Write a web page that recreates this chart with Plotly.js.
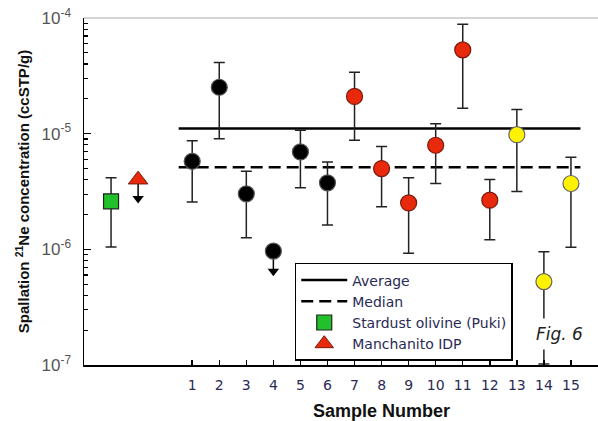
<!DOCTYPE html>
<html>
<head>
<meta charset="utf-8">
<script src="https://cdn.plot.ly/plotly-3.0.1.min.js"></script>
<style>html,body{margin:0;padding:0;background:#fff;}#chart{width:598px;height:421px;}</style>
</head>
<body>
<div id="chart"></div>
<script>
// ---- data ----
const sampleIds = [1, 2, 3, 4, 5, 6, 7, 8, 9, 10, 11, 12, 13, 14, 15];
const sampleValues = [5.77e-6, 2.52e-5, 3.02e-6, 9.66e-7, 6.95e-6, 3.76e-6, 2.1e-5, 4.99e-6, 2.52e-6, 7.94e-6, 5.3e-5, 2.66e-6, 9.8e-6, 5.26e-7, 3.71e-6];
const sampleUpper = [8.7e-6, 4.12e-5, 4.73e-6, null, 1.07e-5, 5.7e-6, 3.4e-5, 7.73e-6, 4.15e-6, 1.22e-5, 8.82e-5, 4.01e-6, 1.62e-5, 9.55e-7, 6.25e-6];
const sampleLower = [2.56e-6, 9.06e-6, 1.26e-6, null, 3.4e-6, 1.62e-6, 8.75e-6, 2.33e-6, 9.25e-7, 3.71e-6, 1.66e-5, 1.21e-6, 3.16e-6, 1.02e-7, 1.04e-6];
const sampleGroup = ['black', 'black', 'black', 'black', 'black', 'black', 'red', 'red', 'red', 'red', 'red', 'red', 'yellow', 'yellow', 'yellow'];
const sampleLimitTo = [null, null, null, 6.45e-7, null, null, null, null, null, null, null, null, null, null, null];

const stardustX = [-2];
const stardustValue = [2.6e-6];
const stardustUpper = [4.15e-6];
const stardustLower = [1.05e-6];

const manchanitoX = [-1];
const manchanitoValue = [4.0e-6];
const manchanitoLimitTo = [2.75e-6];

const averageValue = 1.11e-5;
const medianValue = 5.12e-6;
const refLineX = [0.5, 15.35];

const xTickVals = sampleIds;
const yTickVals = [1e-7, 1e-6, 1e-5, 1e-4];
const yTickText = ['10<sup>-7</sup>', '10<sup>-6</sup>', '10<sup>-5</sup>', '10<sup>-4</sup>'];

// ---- styles ----
const groupColors = { black: '#000000', red: '#e8290b', yellow: '#fff200' };
const groupEdges = { black: '#555555', red: '#7a1a0a', yellow: '#666666' };

const traces = [];
traces.push({
  x: refLineX, y: refLineX.map(() => averageValue), mode: 'lines', name: 'Average',
  line: { color: '#000', width: 2.5 }, hoverinfo: 'skip'
});
traces.push({
  x: refLineX, y: refLineX.map(() => medianValue), mode: 'lines', name: 'Median',
  line: { color: '#000', width: 2.5, dash: '12px,6px' }, hoverinfo: 'skip'
});
traces.push({
  x: stardustX, y: stardustValue, mode: 'markers', name: 'Stardust olivine (Puki)',
  marker: { symbol: 'square', size: 15, color: '#22c02a', line: { color: '#222', width: 1.2 } },
  error_y: { type: 'data', symmetric: false,
    array: stardustValue.map((v, i) => stardustUpper[i] - v),
    arrayminus: stardustValue.map((v, i) => v - stardustLower[i]),
    color: '#222', thickness: 1.5, width: 5.5 }
});
// Manchanito upper-limit arrow
traces.push({
  x: manchanitoX.concat(manchanitoX), y: manchanitoValue.concat(manchanitoLimitTo), mode: 'lines',
  line: { color: '#000', width: 1.5 }, showlegend: false, hoverinfo: 'skip'
});
traces.push({
  x: manchanitoX, y: manchanitoLimitTo, mode: 'markers', showlegend: false,
  marker: { symbol: 'triangle-down', size: 10, color: '#000' }, hoverinfo: 'skip'
});
traces.push({
  x: manchanitoX, y: manchanitoValue, mode: 'markers', name: 'Manchanito IDP',
  marker: { symbol: 'triangle-up', size: 17, color: '#e8290b', line: { color: '#7a1a0a', width: 1 } }
});

// sample upper-limit arrows
sampleIds.forEach((id, i) => {
  if (sampleLimitTo[i] !== null) {
    traces.push({
      x: [id, id], y: [sampleValues[i], sampleLimitTo[i]], mode: 'lines',
      line: { color: '#000', width: 1.5 }, showlegend: false, hoverinfo: 'skip'
    });
    traces.push({
      x: [id], y: [sampleLimitTo[i]], mode: 'markers', showlegend: false,
      marker: { symbol: 'triangle-down', size: 10, color: '#000' }, hoverinfo: 'skip'
    });
  }
});

['black', 'red', 'yellow'].forEach(g => {
  const idx = sampleIds.map((_, i) => i).filter(i => sampleGroup[i] === g);
  traces.push({
    x: idx.map(i => sampleIds[i]),
    y: idx.map(i => sampleValues[i]),
    mode: 'markers', showlegend: false,
    marker: { symbol: 'circle', size: 16, color: groupColors[g], line: { color: groupEdges[g], width: 1.2 } },
    error_y: { type: 'data', symmetric: false,
      array: idx.map(i => sampleUpper[i] === null ? 0 : sampleUpper[i] - sampleValues[i]),
      arrayminus: idx.map(i => sampleLower[i] === null ? 0 : sampleValues[i] - sampleLower[i]),
      color: '#222', thickness: 1.5, width: 5.5 }
  });
});

const layout = {
  width: 598, height: 421,
  margin: { l: 84, r: 0, t: 18, b: 56 },
  paper_bgcolor: '#fff', plot_bgcolor: '#fff',
  showlegend: true,
  font: { family: 'DejaVu Sans, Verdana, sans-serif', color: '#222' },
  xaxis: {
    range: [-3, 16], tickvals: xTickVals, ticks: 'inside', ticklen: 5, tickwidth: 1.5, tickcolor: '#000',
    ticklabelstandoff: 6,
    showgrid: false, zeroline: false, showline: true, linecolor: '#000', linewidth: 2,
    tickfont: { family: 'DejaVu Sans, Verdana, sans-serif', size: 14, color: '#2a2a55' }
  },
  yaxis: {
    type: 'log', range: [-7, -4], tickvals: yTickVals, ticktext: yTickText,
    ticks: 'inside', ticklen: 7, tickwidth: 1.5, tickcolor: '#000',
    ticklabelstandoff: 8,
    minor: { dtick: 'D1', ticks: 'inside', ticklen: 4, tickwidth: 1.2, tickcolor: '#000', showgrid: false },
    showgrid: false, zeroline: false, showline: true, linecolor: '#000', linewidth: 1.5,
    tickfont: { family: 'Liberation Sans, Arial, sans-serif', size: 17, color: '#555' },
    title: { text: 'Spallation <sup>21</sup>Ne concentration (ccSTP/g)', font: { family: 'Liberation Sans, Arial, sans-serif', size: 15, color: '#111', weight: 'bold' }, standoff: 8 }
  },
  legend: {
    x: 0.41, y: 0.294, xanchor: 'left', yanchor: 'top',
    bgcolor: '#fff', bordercolor: '#000', borderwidth: 1.5,
    font: { family: 'DejaVu Sans, Verdana, sans-serif', size: 14, color: '#2a2a55' },
    itemwidth: 46, traceorder: 'normal'
  },
  shapes: [
    { type: 'line', xref: 'paper', yref: 'paper', x0: 0, x1: 1, y0: 1, y1: 1, line: { color: '#aaa', width: 1 } }
  ],
  annotations: [
    { text: '<i>Fig. 6</i>', xref: 'paper', yref: 'paper', x: 0.926, y: 0.089, xanchor: 'center', yanchor: 'middle',
      showarrow: false, borderpad: 5,
      font: { family: 'DejaVu Sans, Verdana, sans-serif', size: 17, color: '#222' }, bgcolor: '#fff' },
    { text: '<b>Sample Number</b>', xref: 'paper', yref: 'paper', x: 0.578, y: -0.133, xanchor: 'center', yanchor: 'middle',
      showarrow: false, font: { family: 'Liberation Sans, Arial, sans-serif', size: 18, color: '#111' } }
  ]
};

Plotly.newPlot('chart', traces, layout, { displayModeBar: false, staticPlot: true });
</script>
</body>
</html>
